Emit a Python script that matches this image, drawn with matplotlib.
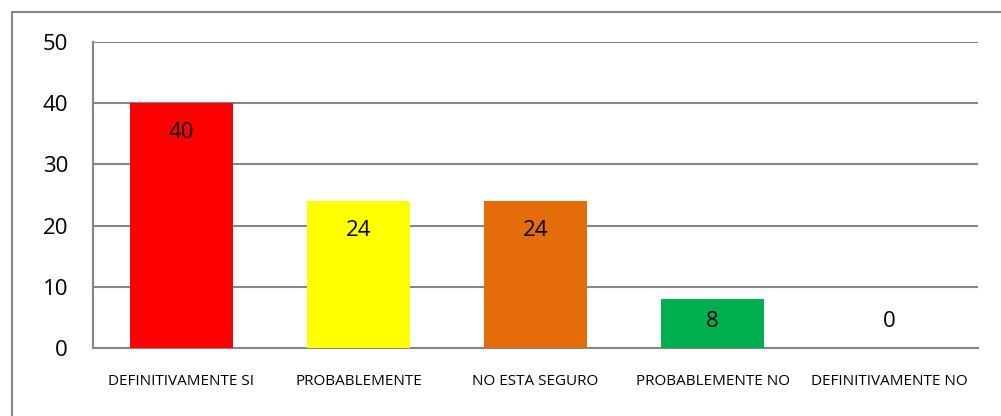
import matplotlib.pyplot as plt
from matplotlib.patches import Rectangle

categories = ["DEFINITIVAMENTE SI", "PROBABLEMENTE", "NO ESTA SEGURO",
              "PROBABLEMENTE NO", "DEFINITIVAMENTE NO"]
values = [40, 24, 24, 8, 0]
colors = ["#FF0000", "#FFFF00", "#E46C0A", "#00B050", "#4F81BD"]

plt.rcParams['font.family'] = ['Open Sans', 'DejaVu Sans']

fig = plt.figure(figsize=(10.01, 4.16), dpi=100)
ax = fig.add_axes([93 / 1001, 68 / 416, 885 / 1001, 306 / 416])

# outer chart frame
fig.patches.append(Rectangle((12 / 1001, -0.1), 1.2, 1.1 - 12 / 416,
                             transform=fig.transFigure, fill=False,
                             edgecolor="#868686", linewidth=1.5))

x = range(len(categories))
ax.bar(x, values, width=0.58, color=colors, zorder=3)

for xi, v in zip(x, values):
    ax.text(xi, max(v - 4.8, 4.3), str(v), ha='center', va='center',
            fontsize=16, color='black', zorder=4)

ax.set_ylim(0, 50)
ax.set_xlim(-0.5, len(categories) - 0.5)
ax.set_yticks(range(0, 51, 10))
ax.yaxis.grid(True, color="#868686", linewidth=1.5, zorder=0)
ax.set_axisbelow(True)
ax.set_xticks(list(x))
ax.set_xticklabels(categories, fontsize=11)
ax.tick_params(axis='x', length=0, pad=19)
ax.tick_params(axis='y', length=0, pad=18, labelsize=16)
for s in ['top', 'right']:
    ax.spines[s].set_visible(False)
for s in ['left', 'bottom']:
    ax.spines[s].set_color("#868686")
    ax.spines[s].set_linewidth(1.5)

fig.savefig("out.png", dpi=100)
